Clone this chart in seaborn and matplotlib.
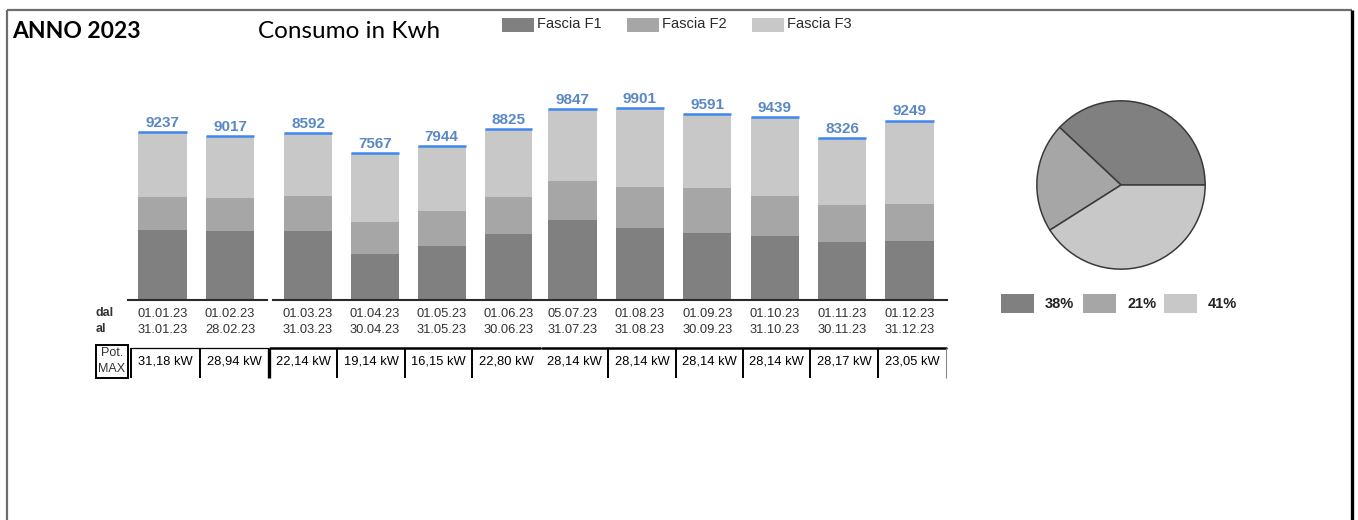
import numpy as np
import pandas as pd
import matplotlib
matplotlib.use("Agg")
import matplotlib.pyplot as plt
from matplotlib.patches import Rectangle
import seaborn as sns

# ---------------- data ----------------
dal = ["01.01.23", "01.02.23", "01.03.23", "01.04.23", "01.05.23", "01.06.23",
       "05.07.23", "01.08.23", "01.09.23", "01.10.23", "01.11.23", "01.12.23"]
al = ["31.01.23", "28.02.23", "31.03.23", "30.04.23", "31.05.23", "30.06.23",
      "31.07.23", "31.08.23", "30.09.23", "31.10.23", "30.11.23", "31.12.23"]
fascia_f1 = [3841, 3771, 3557, 2373, 2768, 3382, 4100, 3713, 3472, 3312, 2993, 3066]
fascia_f2 = [1793, 1840, 1804, 1651, 1805, 1906, 2041, 2132, 2286, 2042, 1909, 1884]
fascia_f3 = [3603, 3406, 3231, 3543, 3371, 3537, 3706, 4056, 3833, 4085, 3424, 4299]
totali = [9237, 9017, 8592, 7567, 7944, 8825, 9847, 9901, 9591, 9439, 8326, 9249]
pot_max = ["31,18 kW", "28,94 kW", "22,14 kW", "19,14 kW", "16,15 kW", "22,80 kW",
           "28,14 kW", "28,14 kW", "28,14 kW", "28,14 kW", "28,17 kW", "23,05 kW"]
quote_pct = [38, 21, 41]
legend_labels = ["Fascia F1", "Fascia F2", "Fascia F3"]

# ---------------- style ----------------
sns.set_theme(style="white")
plt.rcParams["font.family"] = ["Liberation Sans", "DejaVu Sans"]

C1, C2, C3 = "#808080", "#a6a6a6", "#c8c8c8"
BLUE_TXT = "#5a88c6"
BLUE_LINE = "#3f87ec"
TXT = "#333333"

W, H = 1358, 520
fig = plt.figure(figsize=(W / 100, H / 100), dpi=100)
fig.patch.set_facecolor("white")


def px_axes(x0, y0, x1, y1):
    return fig.add_axes([x0 / W, 1 - y1 / H, (x1 - x0) / W, (y1 - y0) / H])


# overlay for frame / table / texts
ov = fig.add_axes([0, 0, 1, 1])
ov.set_xlim(0, W)
ov.set_ylim(H, 0)
ov.axis("off")

# frame
ov.plot([7, 7], [10, H], color="#6e6e6e", lw=1.6, solid_capstyle="butt")
ov.plot([7, 1352], [10, 10], color="#6e6e6e", lw=1.6, solid_capstyle="butt")
ov.plot([1352, 1352], [10, H], color="black", lw=2.4, solid_capstyle="butt")

# titles
ov.text(12, 31, "ANNO 2023", fontsize=16.5, fontweight="bold", family=["Lato", "DejaVu Sans"],
        ha="left", va="center", color="black")
ov.text(258, 31, "Consumo in Kwh", fontsize=17.5, family=["Lato", "DejaVu Sans"],
        ha="left", va="center", color="black")

# legend (top)
for (sx, tx), c, lab in zip([(502, 537), (627, 662), (752, 787)], [C1, C2, C3], legend_labels):
    ov.add_patch(Rectangle((sx, 18), 32, 14, facecolor=c, edgecolor="none"))
    ov.text(tx, 24.5, lab, fontsize=10.5, ha="left", va="center", color="#2a2a2a")

# ---------------- bars ----------------
segments = [
    # (x0px, x1px, indices, xlim, ylim_top)
    (128, 267, [0, 1], (-0.511, 1.548), 13176),
    (273, 540, [2, 3, 4, 5], (-0.524, 3.47), 12372),
    (542, 947, [6, 7, 8, 9, 10, 11], (-0.453, 5.556), 12372),
]
BW = 0.715
for x0, x1, idx, xl, yt in segments:
    ax = px_axes(x0, 60, x1, 300)
    cats = [f"{dal[i]}\n{al[i]}" for i in idx]
    f1 = np.array([fascia_f1[i] for i in idx])
    f2 = np.array([fascia_f2[i] for i in idx])
    f3 = np.array([fascia_f3[i] for i in idx])
    df = pd.DataFrame({"periodo": cats, "F1": f1, "F12": f1 + f2, "F123": f1 + f2 + f3})
    sns.barplot(data=df, x="periodo", y="F123", color=C3, saturation=1, width=BW,
                errorbar=None, ax=ax, linewidth=0)
    sns.barplot(data=df, x="periodo", y="F12", color=C2, saturation=1, width=BW,
                errorbar=None, ax=ax, linewidth=0)
    sns.barplot(data=df, x="periodo", y="F1", color=C1, saturation=1, width=BW,
                errorbar=None, ax=ax, linewidth=0)
    for k, i in enumerate(idx):
        t = totali[i]
        ax.hlines(t, k - BW / 2, k + BW / 2, color=BLUE_LINE, lw=1.8, zorder=5)
        ax.annotate(str(t), (k, t), xytext=(0, 1.5), textcoords="offset points",
                    ha="center", va="bottom", color=BLUE_TXT, fontsize=11,
                    fontweight="bold")
    ax.set_xlim(*xl)
    ax.set_ylim(0, yt)
    ax.set_xlabel("")
    ax.set_ylabel("")
    ax.set_yticks([])
    ax.set_xticks(range(len(idx)))
    ax.set_xticklabels(cats, fontsize=9.3, color=TXT, linespacing=1.45)
    ax.tick_params(axis="x", length=0, pad=6)
    for s in ["top", "left", "right"]:
        ax.spines[s].set_visible(False)
    ax.spines["bottom"].set_color("#2a2a2a")
    ax.spines["bottom"].set_linewidth(1.5)
    ax.patch.set_alpha(0)

ov.text(96, 313, "dal", fontsize=9, fontweight="bold", ha="left", va="center", color=TXT)
ov.text(96, 329, "al", fontsize=9, fontweight="bold", ha="left", va="center", color=TXT)

# ---------------- Pot. MAX table ----------------
seps = [131, 200, 269, 337, 405, 472, 541, 608, 676, 743, 810, 878, 946]
ov.plot([131, 268], [348, 348], color="black", lw=0.9)
ov.plot([270, 540], [348, 348], color="black", lw=1.8)
ov.plot([542, 946], [348, 348], color="black", lw=1.8)
for k, sx in enumerate(seps):
    if sx == 541:
        continue
    lw = 2.4 if sx == 269 else (0.8 if sx == 946 else 1.4)
    col = "#888888" if sx == 946 else "black"
    ov.plot([sx, sx], [348, 378], color=col, lw=lw, solid_capstyle="butt")
for k, txt in enumerate(pot_max):
    cx = (seps[k] + seps[k + 1]) / 2
    ov.text(cx, 362, txt, fontsize=9.3, ha="center", va="center", color="black")
ov.add_patch(Rectangle((96, 345), 32, 33, facecolor="none", edgecolor="black", lw=1.4))
ov.text(112, 353.5, "Pot.", fontsize=9, ha="center", va="center", color=TXT)
ov.text(112, 369, "MAX", fontsize=9, ha="center", va="center", color=TXT)

# ---------------- pie ----------------
axp = px_axes(1036, 100, 1206, 270)
axp.pie(quote_pct, colors=[C1, C2, C3], startangle=0, counterclock=True, radius=1,
        wedgeprops=dict(edgecolor="#3a3a3a", linewidth=1.1))
axp.set_xlim(-1.01, 1.01)
axp.set_ylim(-1.01, 1.01)
axp.set_aspect("equal")
axp.axis("off")

for (sx, tx), c, p in zip([(1001, 1045), (1083, 1127), (1164, 1208)], [C1, C2, C3], quote_pct):
    ov.add_patch(Rectangle((sx, 294), 33, 19, facecolor=c, edgecolor="none"))
    ov.text(tx, 304, f"{p}%", fontsize=10.5, fontweight="bold", ha="left", va="center", color="#222222")

fig.savefig("out.png", dpi=100, facecolor="white")
